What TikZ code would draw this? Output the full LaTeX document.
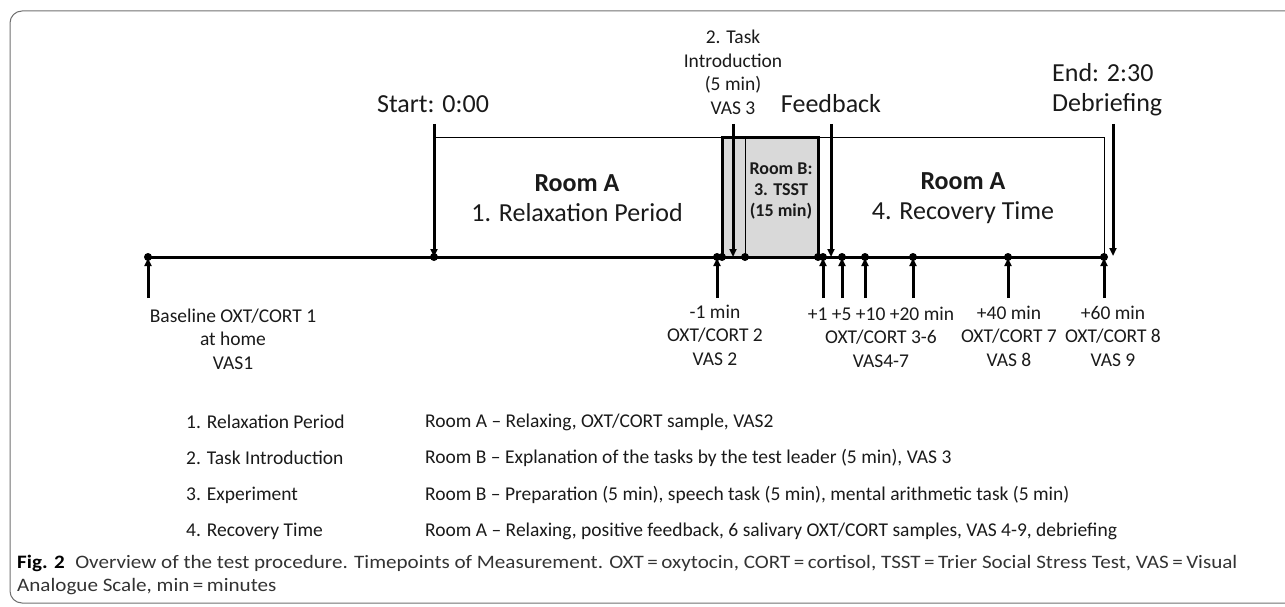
\documentclass[tikz,border=0pt]{standalone}
\usepackage{fontspec}
\setmainfont{Carlito}
\usetikzlibrary{arrows.meta}
\definecolor{txt}{HTML}{1A1A1A}
\definecolor{captxt}{HTML}{333333}
\definecolor{boxgray}{HTML}{D9D9D9}
\definecolor{framegray}{HTML}{707070}
\newcommand{\capstretch}[1]{\scalebox{1.11}[1]{#1}}
\begin{document}
\begin{tikzpicture}[x=1pt,y=-1pt,
  arr/.style={line width=3pt,-{Triangle[length=8pt,width=7pt]}},
  dot/.style={circle,fill=black,inner sep=0pt,minimum size=8pt},
  lbl/.style={font=\fontsize{19.5}{23.5}\selectfont,align=center,text=txt,inner sep=0pt},
  big/.style={font=\fontsize{26}{30}\selectfont,align=center,text=txt,inner sep=0pt},
  rb/.style={font=\fontsize{18}{21}\selectfont\bfseries,align=center,text=txt,inner sep=0pt},
  leg/.style={font=\fontsize{19.5}{23.5}\selectfont,anchor=west,text=txt,inner sep=0pt},
  captext/.style={font=\fontsize{19}{24}\selectfont,anchor=west,text=captxt,inner sep=0pt}]
\clip (0,0) rectangle (1285,607);
% frame
\draw[framegray,line width=1pt,rounded corners=12pt] (10,11) rectangle (1320,603);
% thin period rectangle
\coordinate (rtl) at (434,138);
\coordinate (rtr) at (1104,138);
\draw[line width=1pt] (rtl) -- (rtr) -- (1104,257);
% TSST box
\node[draw,fill=boxgray,line width=3pt,minimum width=96pt,minimum height=119pt,inner sep=0pt] (tsst) at (770,197.5) {};
\coordinate (inTop) at (745,138);
\coordinate (inBot) at (745,257);
\draw[line width=1pt] (inTop) -- (inBot);
% dots on timeline
\node[dot] (t0) at (148,257) {};
\node[dot] (t1) at (434,257) {};
\node[dot] (t2) at (717,257) {};
\node[dot] (t2b) at (722,257) {};
\node[dot] (t3) at (745,257) {};
\node[dot] (t4b) at (818,257) {};
\node[dot] (t4) at (823,257) {};
\node[dot] (t5) at (842,257) {};
\node[dot] (t6) at (865,257) {};
\node[dot] (t7) at (913,257) {};
\node[dot] (t8) at (1008,257) {};
\node[dot] (t9) at (1104,257) {};
% timeline
\draw[line width=3pt] (t0.center) -- (t9.center);
% up arrows
\foreach \n/\x in {t0/148,t2/717,t4/823,t5/842,t6/865,t7/913,t8/1008,t9/1104}{
  \coordinate (b\n) at (\x,298);
  \draw[arr] (b\n) -- ([yshift=-1pt]\n.center);
}
% down arrows
\coordinate (sStart) at (434,124);
\draw[arr] (sStart) -- (t1.center);
\coordinate (sTask) at (733,124);
\coordinate (eTask) at (733,257);
\draw[arr] (sTask) -- (eTask);
\coordinate (sFb) at (831,124);
\coordinate (eFb) at (831,257);
\draw[arr] (sFb) -- (eFb);
\coordinate (sEnd) at (1113,124);
\coordinate (eEnd) at (1113,256);
\draw[arr] (sEnd) -- (eEnd);
% top labels
\node[big] (lStart) at (433,104) {Start: 0:00};
\node[big] (lFb) at (831,104) {Feedback};
\node[big,anchor=west,align=left] (lEnd) at (1052,90) {End: 2:30\\Debriefing};
\node[lbl] (lTask) at (733,72.5) {2. Task\\Introduction\\(5 min)\\VAS 3};
% room labels
\node[big] (rA1) at (577,198) {\textbf{Room A}\\1. Relaxation Period};
\node[big] (rA2) at (963,198) {\textbf{Room A}\\4. Recovery Time};
\node[rb] (rB) at (781,191) {Room B:\\3. TSST\\(15 min)};
% bottom labels
\node[lbl] (lb0) at (233,339) {Baseline OXT/CORT 1\\at home\\VAS1};
\node[lbl] (lb2) at (715,335) {-1 min\\OXT/CORT 2\\VAS 2};
\node[lbl] (lb4) at (881,337) {+1 +5 +10 +20 min\\OXT/CORT 3-6\\VAS4-7};
\node[lbl] (lb8) at (1009,336) {+40 min\\OXT/CORT 7\\VAS 8};
\node[lbl] (lb9) at (1113,336) {+60 min\\OXT/CORT 8\\VAS 9};
% legend
\node[leg] (g1a) at (186,422) {1. Relaxation Period};
\node[leg] (g1b) at (425,422) {Room A -- Relaxing, OXT/CORT sample, VAS2};
\node[leg] (g2a) at (186,458) {2. Task Introduction};
\node[leg] (g2b) at (425,458) {Room B -- Explanation of the tasks by the test leader (5 min), VAS 3};
\node[leg] (g3a) at (186,495) {3. Experiment};
\node[leg] (g3b) at (425,495) {Room B -- Preparation (5 min), speech task (5 min), mental arithmetic task (5 min)};
\node[leg] (g4a) at (186,531) {4. Recovery Time};
\node[leg] (g4b) at (425,531) {Room A -- Relaxing, positive feedback, 6 salivary OXT/CORT samples, VAS 4-9, debriefing};
% caption
\node[captext] (cap1) at (17,563) {\capstretch{{\color{black}\bfseries Fig. 2}\enspace Overview of the test procedure. Timepoints of Measurement. OXT\,=\,oxytocin, CORT\,=\,cortisol, TSST\,=\,Trier Social Stress Test, VAS\,=\,Visual}};
\node[captext] (cap2) at (17,587) {\capstretch{Analogue Scale, min\,=\,minutes}};
\end{tikzpicture}
\end{document}
